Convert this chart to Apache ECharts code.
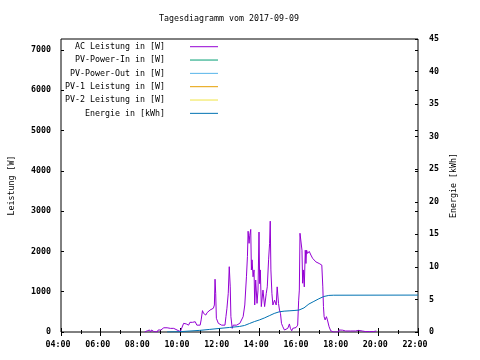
<!DOCTYPE html>
<html><head><meta charset="utf-8">
<script src="https://cdn.jsdelivr.net/npm/echarts@6/dist/echarts.min.js"></script>
<style>html,body{margin:0;padding:0;background:#fff}#c{width:480px;height:360px}</style>
</head><body><div id="c"></div><script>
// ---- data ----
const title = "Tagesdiagramm vom 2017-09-09";
const seriesNames = ["AC Leistung in [W]", "PV-Power-In in [W]", "PV-Power-Out in [W]", "PV-1 Leistung in [W]", "PV-2 Leistung in [W]", "Energie in [kWh]"];
const seriesColors = ["#9400d3", "#009e73", "#56b4e9", "#e69f00", "#f0e442", "#0072b2"];
const acTimes = ["08:13","08:15","08:21","08:28","08:31","08:34","08:38","08:41","08:46","08:51","08:54","08:58",
"09:02","09:06","09:11","09:16","09:21","09:26","09:31","09:36","09:41","09:46","09:51","09:56",
"10:01","10:06","10:11","10:16","10:19","10:22","10:26","10:30","10:34","10:38","10:42","10:46","10:51","10:56",
"11:01","11:04","11:08","11:11","11:14","11:18","11:22","11:26","11:31","11:36","11:41","11:44","11:46","11:48","11:50","11:53","11:56",
"12:01","12:06","12:11","12:16","12:19","12:22","12:26","12:29","12:32","12:34","12:38","12:41","12:46","12:51","12:56",
"13:01","13:06","13:11","13:16","13:21","13:24","13:26","13:29","13:31","13:34","13:36","13:38","13:41","13:44","13:46","13:49","13:53","13:56","13:59",
"14:01","14:03","14:06","14:11","14:16","14:21","14:24","14:28","14:31","14:33","14:35","14:38","14:41","14:46","14:51","14:54","14:58",
"15:01","15:04","15:07","15:11","15:16","15:21","15:26","15:31","15:34","15:38","15:41","15:46","15:51","15:56","15:59",
"16:01","16:03","16:06","16:09","16:11","16:13","16:16","16:19","16:21","16:23","16:26","16:31","16:36","16:41","16:46","16:51","16:56",
"17:01","17:06","17:09","17:12","17:14","17:16","17:19","17:23","17:26","17:31","17:36","17:41","17:45",
"18:00","18:01","18:12","18:21","18:36","18:51",
"19:00","19:12","19:21","19:27","19:33","19:39","19:45","19:54"];
const acValues = [0,25,30,50,0,50,65,10,50,0,50,10,
50,90,105,90,105,80,90,75,90,75,50,75,
10,10,215,255,200,235,170,240,215,240,195,255,170,155,
170,300,530,465,500,420,480,465,545,500,590,670,1310,960,340,300,215,
170,170,130,170,380,590,960,1620,1120,380,90,170,130,170,170,
215,215,380,670,1370,1870,2500,2200,2400,2545,1540,1790,1370,1540,670,1290,710,1040,2480,
1200,1540,630,1040,630,960,1120,1790,2200,2750,1540,960,670,790,670,1120,710,
545,460,215,130,50,25,90,200,90,30,90,130,110,170,790,
1040,2450,2490,2030,1210,1540,1120,2030,1700,2030,1950,2000,1910,1830,1790,1740,1720,
1700,1700,1660,1120,630,380,300,380,300,130,30,0,0,
0,50,45,25,25,25,
40,25,10,40,10,40,10,25];
const pvInTimes = [], pvInValues = [];
const pvOutTimes = [], pvOutValues = [];
const pv1Times = [], pv1Values = [];
const pv2Times = [], pv2Values = [];
const enTimes = ["09:21","09:45","10:00","10:30","11:00","11:30","12:00","12:30","13:00","13:15","13:30","13:45","14:00","14:15","14:30","14:45","15:00","15:15","15:30","15:45","16:00","16:15","16:30","16:45","17:00","17:15","17:30","17:45","22:00"];
const enValues = [0,0.03,0.05,0.15,0.25,0.4,0.55,0.7,0.85,1.0,1.3,1.6,1.85,2.15,2.5,2.85,3.1,3.2,3.25,3.3,3.37,3.7,4.3,4.7,5.1,5.45,5.62,5.65,5.67];
const xMin = 4, xMax = 22, xStep = 2;
const yLeftMax = 7270, yLeftStep = 1000;
const yRightMax = 45, yRightStep = 5;

// ---- build ----
function hours(s){ const p = s.split(":"); return (+p[0]) + (+p[1]) / 60; }
function zip(t, v){ return t.map((s, i) => [hours(s), v[i]]); }
const FONT = "DejaVu Sans Mono";
const FS = 8.3;
const pad2 = n => (n < 10 ? "0" : "") + n;

const dataSets = [
  {t: acTimes, v: acValues, y: 0},
  {t: pvInTimes, v: pvInValues, y: 0},
  {t: pvOutTimes, v: pvOutValues, y: 0},
  {t: pv1Times, v: pv1Values, y: 0},
  {t: pv2Times, v: pv2Values, y: 0},
  {t: enTimes, v: enValues, y: 1}
];

const chart = echarts.init(document.getElementById("c"), null, {renderer: "canvas"});
const axisLabelStyle = {color: "#000", fontFamily: FONT, fontSize: FS, fontWeight: "bold"};
chart.setOption({
  animation: false,
  backgroundColor: "#fff",
  title: {text: title, left: 224, top: 10, textAlign: "center",
    textStyle: {fontFamily: FONT, fontSize: FS, fontWeight: "normal", color: "#000"}},
  grid: {left: 58, right: 62, top: 39, bottom: 28, show: true, borderColor: "#000", borderWidth: 1, containLabel: false},
  legend: {
    orient: "vertical", align: "right", right: 262, top: 40.7, padding: 0, itemGap: 1.33,
    icon: "rect", itemWidth: 28, itemHeight: 1,
    data: seriesNames,
    textStyle: {fontFamily: FONT, fontSize: FS, color: "#000", lineHeight: 12, padding: [0, 20, 0, 0]}
  },
  xAxis: [
    {type: "value", min: xMin, max: xMax, interval: xStep, position: "bottom",
     axisLine: {show: false}, splitLine: {show: false},
     axisTick: {show: true, inside: true, length: 4, lineStyle: {color: "#000"}},
     minorTick: {show: true, splitNumber: 2, length: 2, lineStyle: {color: "#000"}},
     axisLabel: Object.assign({margin: 9, padding: [0, 6, 0, 0], formatter: v => pad2(v) + ":00"}, axisLabelStyle)},
    {type: "value", min: xMin, max: xMax, interval: xStep, position: "top",
     axisLine: {show: false}, splitLine: {show: false}, axisLabel: {show: false},
     axisTick: {show: true, inside: true, length: 4, lineStyle: {color: "#000"}},
     minorTick: {show: true, splitNumber: 2, length: 2, lineStyle: {color: "#000"}}}
  ],
  yAxis: [
    {type: "value", min: 0, max: yLeftMax, interval: yLeftStep, position: "left",
     name: "Leistung [W]", nameLocation: "middle", nameRotate: 90, nameGap: 45,
     nameTextStyle: {fontFamily: FONT, fontSize: FS, color: "#000"},
     axisLine: {show: false}, splitLine: {show: false},
     axisTick: {show: true, inside: true, length: 3, lineStyle: {color: "#000"}},
     axisLabel: Object.assign({margin: 10, showMaxLabel: false,
       formatter: v => (v % yLeftStep === 0 ? String(v) : "")}, axisLabelStyle)},
    {type: "value", min: 0, max: yRightMax, interval: yRightStep, position: "right",
     name: "Energie [kWh]", nameLocation: "middle", nameRotate: 90, nameGap: 30,
     nameTextStyle: {fontFamily: FONT, fontSize: FS, color: "#000"},
     axisLine: {show: false}, splitLine: {show: false},
     axisTick: {show: true, inside: true, length: 3, lineStyle: {color: "#000"}},
     axisLabel: Object.assign({margin: 11}, axisLabelStyle)},
    {type: "value", min: 0, max: yLeftMax, interval: yLeftStep, position: "right",
     axisLine: {show: false}, splitLine: {show: false}, axisLabel: {show: false},
     axisTick: {show: true, inside: true, length: 3, lineStyle: {color: "#000"}}}
  ],
  series: dataSets.map((d, i) => ({
    name: seriesNames[i], type: "line", xAxisIndex: 0, yAxisIndex: d.y,
    data: zip(d.t, d.v), showSymbol: false, symbol: "none",
    color: seriesColors[i],
    lineStyle: {color: seriesColors[i], width: 1},
    itemStyle: {color: seriesColors[i]}
  }))
});
</script></body></html>
